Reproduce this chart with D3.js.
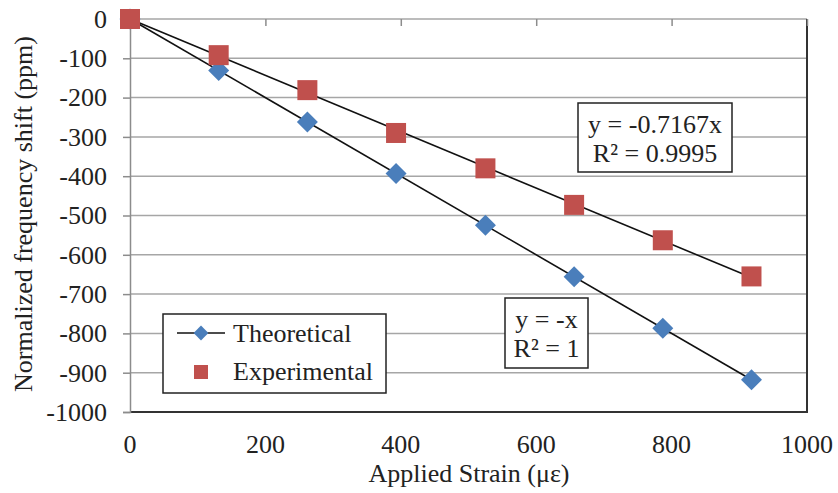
<!DOCTYPE html>
<html>
<head>
<meta charset="utf-8">
<script src="https://cdn.jsdelivr.net/npm/d3@7"></script>
<style>
body { margin: 0; background: #fff; }
text { font-family: "Liberation Serif", "Times New Roman", serif; fill: #222; }
</style>
</head>
<body>
<script>
var w = 838;
var h = 493;

// data
var strain = [0, 131, 262, 393, 525, 656, 787, 918];
var theoretical = [0, -131, -262, -393, -525, -656, -787, -918];
var experimental = [0, -92, -181, -290, -380, -473, -563, -655];
var xTicks = [0, 200, 400, 600, 800, 1000];
var yTicks = [0, -100, -200, -300, -400, -500, -600, -700, -800, -900, -1000];
var slopes = {theo: -1, exp: -0.7167};

var fs = 26;

var x = d3.scaleLinear().domain([0, 1000]).range([130, 807]);
var y = d3.scaleLinear().domain([0, -1000]).range([19, 412]);

var svg = d3.select("body").append("svg")
  .attr("width", w)
  .attr("height", h);

// horizontal gridlines
svg.append("g")
  .selectAll("line")
  .data(yTicks)
  .enter().append("line")
    .attr("x1", x(0))
    .attr("x2", x(1000))
    .attr("y1", function(d) { return y(d); })
    .attr("y2", function(d) { return y(d); })
    .attr("stroke", "#a6a6a6")
    .attr("stroke-width", 1.5);

// plot border right / bottom
svg.append("path")
  .attr("d", "M" + x(1000) + "," + y(0) + "V" + y(-1000) + "H" + x(0))
  .attr("fill", "none")
  .attr("stroke", "#333")
  .attr("stroke-width", 2);

// y axis
var yAxis = svg.append("g")
  .attr("transform", "translate(" + x(0) + ",0)")
  .call(d3.axisLeft(y).tickValues(yTicks).tickSize(7).tickPadding(16).tickFormat(function(d) { return String(d); }));
yAxis.select(".domain").attr("stroke", "#8c8c8c").attr("stroke-width", 1.5);
yAxis.selectAll(".tick line").attr("stroke", "#8c8c8c").attr("stroke-width", 1.5);
yAxis.selectAll("text").attr("font-size", fs).attr("font-family", "Liberation Serif").attr("fill", "#222");

// x axis: ticks on the zero line, labels at the bottom
var xAxis = svg.append("g")
  .attr("transform", "translate(0," + y(0) + ")")
  .call(d3.axisBottom(x).tickValues(xTicks).tickSize(7).tickFormat(""));
xAxis.select(".domain").remove();
xAxis.selectAll(".tick line").attr("stroke", "#8c8c8c").attr("stroke-width", 1.5);

svg.append("g")
  .selectAll("text")
  .data(xTicks)
  .enter().append("text")
    .attr("x", function(d) { return x(d); })
    .attr("y", 453)
    .attr("text-anchor", "middle")
    .attr("font-size", fs)
    .text(function(d) { return d; });

// trendlines
function trend(k) {
  return d3.line()
    .x(function(d) { return x(d); })
    .y(function(d) { return y(k * d); })([0, d3.max(strain)]);
}
svg.append("path").attr("d", trend(slopes.theo)).attr("stroke", "#111").attr("stroke-width", 1.6).attr("fill", "none");
svg.append("path").attr("d", trend(slopes.exp)).attr("stroke", "#111").attr("stroke-width", 1.6).attr("fill", "none");

var diamond = d3.symbol().type(d3.symbolSquare).size(220);

// theoretical diamonds
svg.append("g")
  .selectAll("path")
  .data(strain)
  .enter().append("path")
    .attr("d", diamond)
    .attr("transform", function(d, i) { return "translate(" + x(d) + "," + y(theoretical[i]) + ") rotate(45)"; })
    .attr("fill", "#4a7ebb");

// experimental squares
svg.append("g")
  .selectAll("rect")
  .data(strain)
  .enter().append("rect")
    .attr("x", function(d) { return x(d) - 10; })
    .attr("y", function(d, i) { return y(experimental[i]) - 10; })
    .attr("width", 20)
    .attr("height", 20)
    .attr("fill", "#c0504d");

// trend labels
function labelBox(x0, y0, bw, bh, lines) {
  var g = svg.append("g");
  g.append("rect")
    .attr("x", x0).attr("y", y0).attr("width", bw).attr("height", bh)
    .attr("fill", "#fff").attr("stroke", "#222").attr("stroke-width", 1.5);
  g.selectAll("text")
    .data(lines)
    .enter().append("text")
      .attr("x", x0 + bw / 2)
      .attr("y", function(d, i) { return y0 + 30 + i * 29; })
      .attr("text-anchor", "middle")
      .attr("font-size", fs)
      .text(function(d) { return d; });
}
labelBox(578, 103, 154, 69, ["y = -0.7167x", "R\u00b2 = 0.9995"]);
labelBox(505, 298, 83, 70, ["y = -x", "R\u00b2 = 1"]);

// legend
var lg = svg.append("g");
lg.append("rect")
  .attr("x", 163).attr("y", 314).attr("width", 223).attr("height", 79)
  .attr("fill", "#fff").attr("stroke", "#222").attr("stroke-width", 1.5);
lg.append("line").attr("x1", 177).attr("x2", 225).attr("y1", 333).attr("y2", 333).attr("stroke", "#111").attr("stroke-width", 1.5);
lg.append("path").attr("d", d3.symbol().type(d3.symbolSquare).size(110)).attr("transform", "translate(201,333) rotate(45)").attr("fill", "#4a7ebb");
lg.append("rect").attr("x", 194).attr("y", 365).attr("width", 14).attr("height", 14).attr("fill", "#c0504d");
lg.append("text").attr("x", 233).attr("y", 342).attr("font-size", fs).text("Theoretical");
lg.append("text").attr("x", 233).attr("y", 380).attr("font-size", fs).text("Experimental");

// axis titles
svg.append("text")
  .attr("x", 469)
  .attr("y", 482)
  .attr("text-anchor", "middle")
  .attr("font-size", fs)
  .text("Applied Strain (\u03bc\u03b5)");

svg.append("text")
  .attr("transform", "translate(32,214) rotate(-90)")
  .attr("text-anchor", "middle")
  .attr("font-size", fs)
  .text("Normalized frequency shift (ppm)");
</script>
</body>
</html>
